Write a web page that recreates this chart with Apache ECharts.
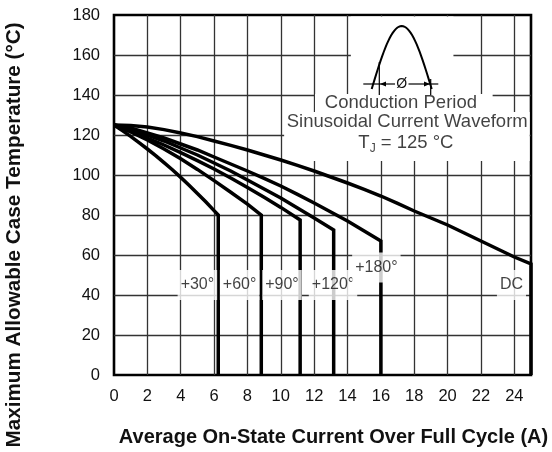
<!DOCTYPE html>
<html><head><meta charset="utf-8">
<script src="https://cdn.jsdelivr.net/npm/echarts@6/dist/echarts.min.js"></script>
<style>html,body{margin:0;padding:0;background:#fff}#c{width:552px;height:452px}</style>
</head><body><div id="c"></div>
<script>
// ---- data ----
const curve30  = [[0,125],[0.5,122.2],[1,119.3],[1.5,116.2],[2,113],[2.5,109.7],[3,106.2],[3.5,102.6],[4,98.8],[4.5,94.9],[5,90.8],[5.5,86.6],[6,82.2],[6.25,80],[6.25,0]];
const curve60  = [[0,125],[1,121.5],[2,117.5],[3,113],[4,108.1],[5,102.8],[6,97.2],[7,91.4],[8,85.4],[8.83,80],[8.83,0]];
const curve90  = [[0,125],[1,121.9],[2,118.5],[3,115],[4,111.2],[5,107.2],[6,103],[7,98.5],[8,93.8],[9,88.9],[10,83.8],[11.16,77.5],[11.16,0]];
const curve120 = [[0,125],[1,123],[2,120],[3,117],[4,113.5],[5,110],[6,106],[7,102],[8,97.5],[9,93],[10,88.5],[11,83.5],[12,78.5],[13.17,72.5],[13.17,0]];
const curve180 = [[0,125],[1,123.5],[2,121],[3,118.5],[4,115.5],[5,112.5],[6,109],[7,105.5],[8,102],[9,98.3],[10,94.5],[11,90.3],[12,86],[13,81.5],[14,77],[15,72],[16,67],[16,0]];
const curveDC  = [[0,125],[1,124.8],[2,124],[3,122.7],[4,121],[5,119.2],[6,117],[7,114.8],[8,112.5],[9,110],[10,107.5],[11,104.8],[12,102],[13,99],[14,96],[15,92.8],[16,89.5],[17,85.8],[18,82],[19,78.5],[20,75],[21,71],[22,67],[23,63],[24,59],[25,55.5],[25,0]];
const curveNames = ['+30°','+60°','+90°','+120°','+180°','DC'];
const curveLabelX = [5.0, 7.53, 10.07, 13.13, 15.73, 23.83];
const curveLabelY = [45, 45, 45, 45, 53.75, 45];
const xMin = 0, xMax = 25, xStep = 2;
const yMin = 0, yMax = 180, yStep = 20;
const xTitle = 'Average On-State Current Over Full Cycle (A)';
const yTitle = 'Maximum Allowable Case Temperature (°C)';
const noteLines = ['Conduction Period', 'Sinusoidal Current Waveform'];
const noteX = [17.2, 17.58, 17.5];
const noteY = [136, 126.7, 115.8];

const FONT = '"Liberation Sans", Arial, Helvetica, sans-serif';
const curves = [curve30, curve60, curve90, curve120, curve180, curveDC];

const chart = echarts.init(document.getElementById('c'));

const lineSeries = curves.map((d, i) => ({
  type: 'line', name: curveNames[i], data: d, symbol: 'none', clip: false, z: 3,
  lineStyle: {color: '#000', width: 3.5, join: 'miter'}, animation: false
}));

const labelData = curveNames.map((n, i) => ({
  value: [curveLabelX[i], curveLabelY[i]],
  label: {show: true, formatter: n, position: 'inside', fontFamily: FONT, fontSize: 16, color: '#111',
          backgroundColor: '#fff', padding: [6, 3, 6, 3], lineHeight: 18}
}));
labelData.push({value: [noteX[0], noteY[0]], label: {show: true, formatter: noteLines[0], position: 'inside', fontFamily: FONT, fontSize: 18.5, color: '#111'}});
labelData.push({value: [noteX[1], noteY[1]], label: {show: true, formatter: noteLines[1], position: 'inside', fontFamily: FONT, fontSize: 18.5, color: '#111'}});
labelData.push({value: [noteX[2], noteY[2]], label: {show: true, position: 'inside',
  formatter: '{a|T}{s|J}{a| = 125 °C}',
  rich: {a: {fontFamily: FONT, fontSize: 18.5, color: '#111', lineHeight: 22},
         s: {fontFamily: FONT, fontSize: 12, color: '#111', lineHeight: 22, padding: [10, 0, 0, 0]}}}});

const option = {
  animation: false,
  backgroundColor: '#fff',
  grid: {left: 114, right: 21, top: 15, bottom: 77, show: true, borderColor: '#000', borderWidth: 2.6,
         containLabel: false, outerBoundsMode: 'none'},
  xAxis: {
    type: 'value', min: xMin, max: xMax, interval: xStep,
    axisLine: {show: false}, axisTick: {show: false},
    axisLabel: {fontFamily: FONT, fontSize: 16.5, color: '#111', margin: 13, showMaxLabel: false},
    splitLine: {show: true, showMinLine: false, showMaxLine: false, lineStyle: {color: '#333', width: 1.3}},
    name: xTitle, nameLocation: 'middle', nameGap: 52,
    nameTextStyle: {fontFamily: FONT, fontSize: 20, fontWeight: 'bold', color: '#111', padding: [0, 0, 0, 22]}
  },
  yAxis: {
    type: 'value', min: yMin, max: yMax, interval: yStep,
    axisLine: {show: false}, axisTick: {show: false},
    axisLabel: {fontFamily: FONT, fontSize: 16.5, color: '#111', margin: 14},
    splitLine: {show: true, showMinLine: false, showMaxLine: false, lineStyle: {color: '#333', width: 1.3}},
    name: yTitle, nameLocation: 'middle', nameGap: 89,
    nameTextStyle: {fontFamily: FONT, fontSize: 20.7, fontWeight: 'bold', color: '#111', padding: [0, 80, 0, 0]}
  },
  series: [
    {
      type: 'line', data: [], z: 2, silent: true,
      markArea: {silent: true, itemStyle: {color: '#fff', opacity: 1}, label: {show: false},
        data: [
          [{coord: [14.2, 179.3]}, {coord: [20.35, 140.5]}],
          [{coord: [12.05, 140.5]}, {coord: [22.7, 131.5]}],
          [{coord: [10.2, 131.5]}, {coord: [24.92, 107]}]
        ]}
    },
    ...lineSeries,
    {type: 'scatter', data: labelData, symbolSize: 0, z: 5, silent: true, animation: false}
  ],
  graphic: [
    {type: 'polyline', z: 10, shape: {points: (() => { const p = []; for (let k = 0; k <= 40; k++) { const t = Math.PI * k / 40; p.push([371.7 + 60 * k / 40, 89 - 63 * Math.sin(t)]); } return p; })()},
      style: {stroke: '#000', lineWidth: 2, fill: null}},
    {type: 'line', z: 10, shape: {x1: 379.3, y1: 62, x2: 379.3, y2: 95}, style: {stroke: '#000', lineWidth: 1.2}},
    {type: 'line', z: 10, shape: {x1: 430.7, y1: 79, x2: 430.7, y2: 95}, style: {stroke: '#000', lineWidth: 1.2}},
    {type: 'line', z: 10, shape: {x1: 363.3, y1: 84, x2: 395, y2: 84}, style: {stroke: '#000', lineWidth: 1.2}},
    {type: 'line', z: 10, shape: {x1: 408.5, y1: 84, x2: 438.3, y2: 84}, style: {stroke: '#000', lineWidth: 1.2}},
    {type: 'polygon', z: 10, shape: {points: [[380, 84], [386, 81.5], [386, 86.5]]}, style: {fill: '#000'}},
    {type: 'polygon', z: 10, shape: {points: [[430, 84], [424, 81.5], [424, 86.5]]}, style: {fill: '#000'}},
    {type: 'text', z: 10, x: 401.7, y: 84, style: {text: 'Ø', font: '14px ' + FONT, fill: '#111', align: 'center', verticalAlign: 'middle'}}
  ]
};
chart.setOption(option);
</script></body></html>
